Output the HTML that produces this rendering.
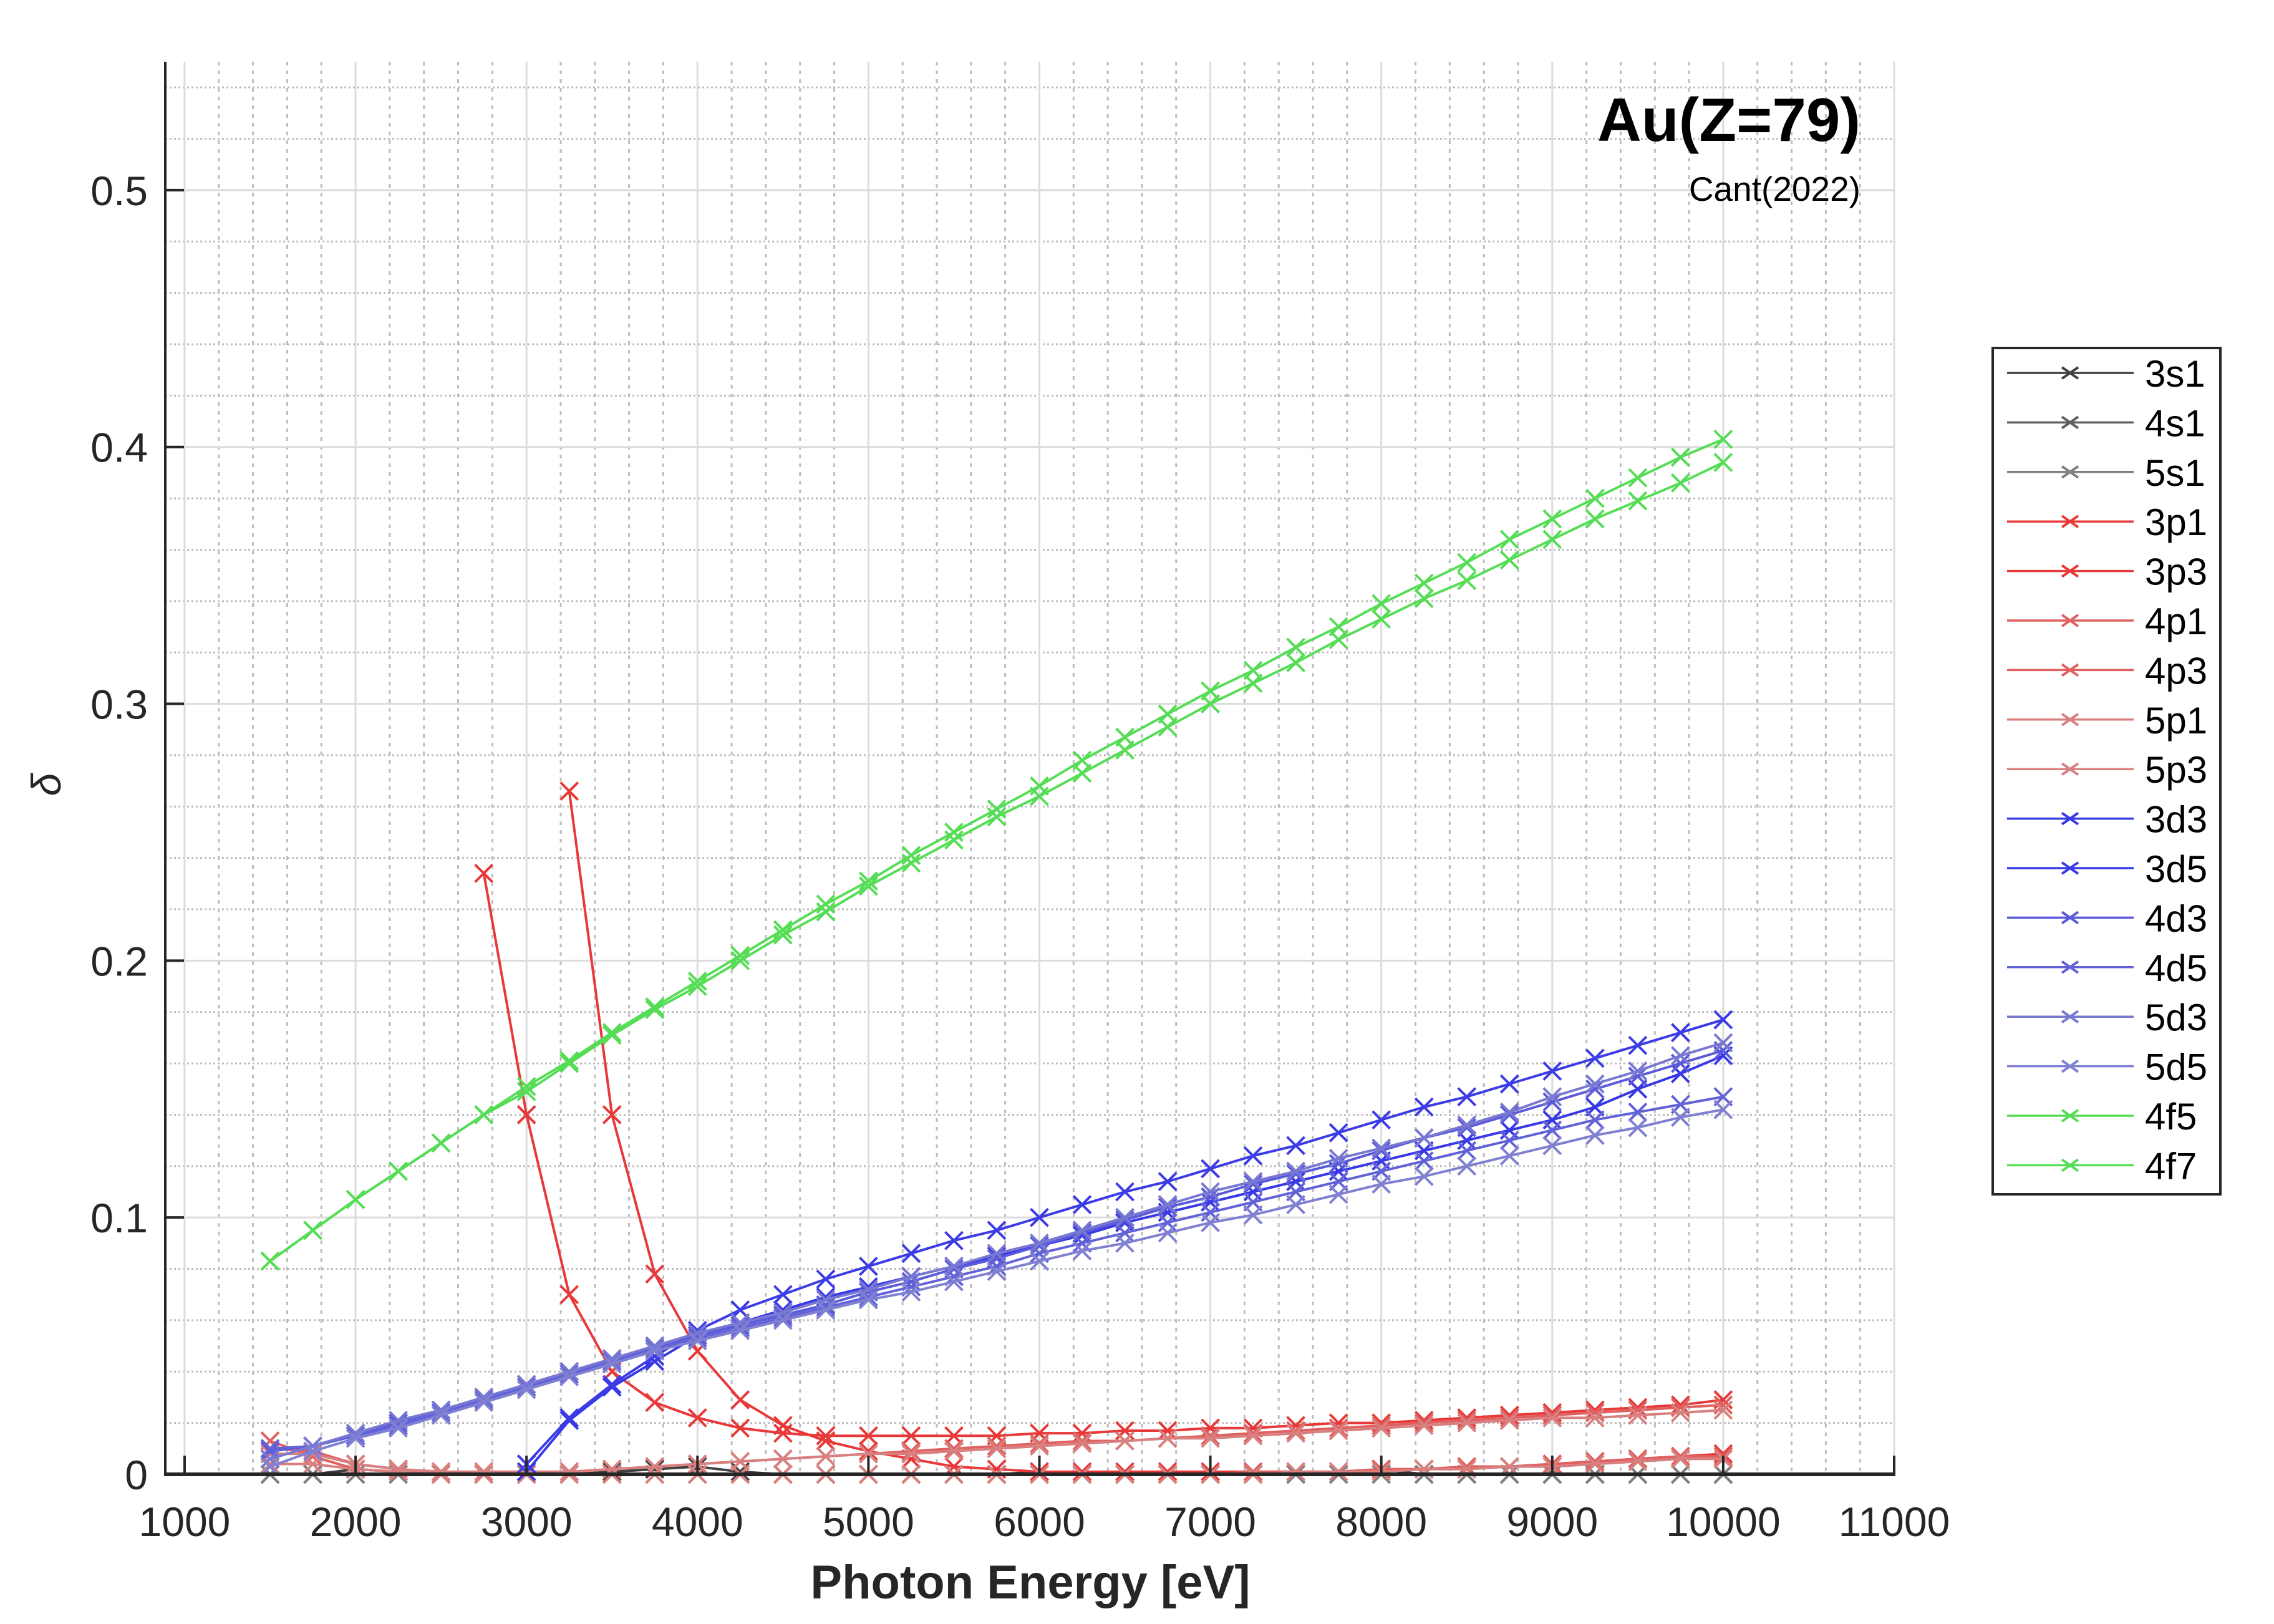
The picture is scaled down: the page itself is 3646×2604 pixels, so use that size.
<!DOCTYPE html>
<html><head><meta charset="utf-8"><style>
html,body{margin:0;padding:0;background:#fff;}
svg{display:block;font-family:"Liberation Sans",Arial,sans-serif;}
</style></head><body>
<svg id="chart" width="3646" height="2604" viewBox="0 0 3646 2604" xmlns="http://www.w3.org/2000/svg">
<rect x="0" y="0" width="3646" height="2604" fill="#fff"/>
<g id="grid"></g>
<g id="series"></g>
<g id="axes"></g>
<text x="2983" y="226" text-anchor="end" font-size="98" font-weight="bold" fill="#000">Au(Z=79)</text>
<text x="2983" y="322" text-anchor="end" font-size="55" fill="#000">Cant(2022)</text>
<text x="1652" y="2563" text-anchor="middle" font-size="76" font-weight="bold" fill="#262626">Photon Energy [eV]</text>
<text x="0" y="0" transform="translate(97,1258) rotate(-90)" text-anchor="middle" font-size="66" font-style="italic" fill="#262626">δ</text>
<g id="legend"></g>
</svg>
<script>
const energies=[1500,1750,2000,2250,2500,2750,3000,3250,3500,3750,4000,4250,4500,4750,5000,5250,5500,5750,6000,6250,6500,6750,7000,7250,7500,7750,8000,8250,8500,8750,9000,9250,9500,9750,10000];
const xTicks=[1000,2000,3000,4000,5000,6000,7000,8000,9000,10000,11000];
const yTicks=[0,0.1,0.2,0.3,0.4,0.5];
const yTickLabels=["0","0.1","0.2","0.3","0.4","0.5"];
const seriesNames=["3s1","4s1","5s1","3p1","3p3","4p1","4p3","5p1","5p3","3d3","3d5","4d3","4d5","5d3","5d5","4f5","4f7"];
const seriesColors=["#404040","#606060","#808080","#e83838","#e83838","#e06060","#e06060","#d88080","#d88080","#3838e6","#3c3ce6","#5a5ada","#6262d8","#7878d2","#8080d2","#55dd55","#55dd55"];
const N=null;
const s3s1=[0.000,0.000,0.002,0.001,0.000,0.000,0.000,0.000,0.001,0.002,0.003,0.001,0.000,0.000,0.000,0.000,0.000,0.000,0.001,0.000,0.000,0.000,0.000,0.000,0.000,0.000,0.002,0.000,0.000,0.000,0.000,0.000,0.000,0.000,0.000];
const s4s1=[0.000,0.000,0.000,0.000,0.000,0.000,0.000,0.000,0.000,0.000,0.000,0.000,0.000,0.000,0.000,0.000,0.000,0.000,0.000,0.000,0.000,0.000,0.000,0.000,0.000,0.000,0.000,0.000,0.000,0.000,0.000,0.000,0.000,0.000,0.000];
const s5s1=[0.000,0.000,0.000,0.000,0.000,0.000,0.000,0.000,0.000,0.000,0.000,0.000,0.000,0.000,0.000,0.000,0.000,0.000,0.000,0.000,0.000,0.000,0.000,0.000,0.000,0.000,0.000,0.000,0.000,0.000,0.000,0.000,0.000,0.000,0.000];
const s3p1=[N,N,N,N,N,0.234,0.140,0.070,0.040,0.028,0.022,0.018,0.016,0.015,0.015,0.015,0.015,0.015,0.016,0.016,0.017,0.017,0.018,0.018,0.019,0.020,0.020,0.021,0.022,0.023,0.024,0.025,0.026,0.027,0.029];
const s3p3=[N,N,N,N,N,N,N,0.266,0.140,0.078,0.048,0.029,0.019,0.013,0.009,0.006,0.003,0.002,0.001,0.001,0.001,0.001,0.001,0.001,0.001,0.001,0.002,0.002,0.003,0.003,0.004,0.005,0.006,0.007,0.008];
const s4p1=[0.013,0.007,0.002,0.001,0.000,0.000,0.000,0.000,0.000,0.000,0.000,0.000,0.000,0.000,0.000,0.000,0.000,0.000,0.000,0.000,0.000,0.000,0.000,0.001,0.001,0.001,0.002,0.002,0.003,0.003,0.004,0.005,0.006,0.007,0.007];
const s4p3=[0.010,0.009,0.004,0.002,0.001,0.001,0.001,0.001,0.002,0.003,0.004,0.005,0.006,0.007,0.008,0.009,0.010,0.011,0.012,0.013,0.013,0.014,0.015,0.016,0.017,0.018,0.019,0.020,0.021,0.022,0.023,0.024,0.025,0.026,0.027];
const s5p1=[0.004,0.004,0.002,0.001,0.000,0.000,0.000,0.000,0.000,0.000,0.000,0.000,0.000,0.000,0.000,0.000,0.000,0.000,0.000,0.000,0.000,0.000,0.000,0.000,0.001,0.001,0.001,0.002,0.002,0.003,0.003,0.004,0.005,0.006,0.006];
const s5p3=[0.008,0.008,0.004,0.002,0.001,0.001,0.001,0.001,0.002,0.003,0.004,0.005,0.006,0.007,0.008,0.008,0.009,0.010,0.011,0.012,0.013,0.014,0.014,0.015,0.016,0.017,0.018,0.019,0.020,0.021,0.022,0.022,0.023,0.024,0.025];
const s3d3=[N,N,N,N,N,N,0.001,0.021,0.034,0.044,0.054,0.059,0.064,0.069,0.073,0.077,0.081,0.085,0.089,0.093,0.098,0.102,0.106,0.110,0.114,0.118,0.122,0.126,0.130,0.134,0.138,0.143,0.150,0.156,0.163];
const s3d5=[N,N,N,N,N,N,0.004,0.022,0.035,0.046,0.056,0.064,0.070,0.076,0.081,0.086,0.091,0.095,0.100,0.105,0.110,0.114,0.119,0.124,0.128,0.133,0.138,0.143,0.147,0.152,0.157,0.162,0.167,0.172,0.177];
const s4d3=[0.009,0.011,0.015,0.020,0.025,0.030,0.035,0.040,0.045,0.049,0.054,0.058,0.062,0.066,0.071,0.075,0.080,0.084,0.089,0.094,0.099,0.104,0.108,0.113,0.117,0.121,0.126,0.131,0.135,0.140,0.145,0.150,0.155,0.160,0.165];
const s4d5=[0.010,0.011,0.015,0.019,0.024,0.029,0.034,0.039,0.044,0.049,0.053,0.057,0.061,0.065,0.069,0.073,0.077,0.081,0.086,0.090,0.094,0.098,0.102,0.106,0.110,0.114,0.118,0.122,0.126,0.130,0.134,0.138,0.141,0.144,0.147];
const s5d3=[0.006,0.011,0.016,0.021,0.025,0.030,0.035,0.040,0.045,0.050,0.055,0.059,0.063,0.068,0.072,0.077,0.081,0.086,0.090,0.095,0.100,0.105,0.110,0.114,0.118,0.123,0.127,0.131,0.136,0.141,0.147,0.152,0.157,0.163,0.168];
const s5d5=[0.003,0.009,0.014,0.018,0.023,0.028,0.033,0.038,0.043,0.048,0.052,0.056,0.060,0.064,0.068,0.071,0.075,0.079,0.083,0.087,0.090,0.094,0.098,0.101,0.105,0.109,0.113,0.116,0.120,0.124,0.128,0.132,0.135,0.139,0.142];
const s4f5=[0.083,0.095,0.107,0.118,0.129,0.140,0.149,0.160,0.171,0.181,0.190,0.200,0.210,0.219,0.229,0.238,0.247,0.256,0.264,0.273,0.282,0.291,0.300,0.308,0.316,0.325,0.333,0.341,0.348,0.356,0.364,0.372,0.379,0.386,0.394];
const s4f7=[0.083,0.095,0.107,0.118,0.129,0.140,0.151,0.161,0.172,0.182,0.192,0.202,0.212,0.222,0.231,0.241,0.250,0.259,0.268,0.278,0.287,0.296,0.305,0.313,0.322,0.330,0.339,0.347,0.355,0.364,0.372,0.380,0.388,0.396,0.403];
const seriesValues=[s3s1,s4s1,s5s1,s3p1,s3p3,s4p1,s4p3,s5p1,s5p3,s3d3,s3d5,s4d3,s4d5,s5d3,s5d5,s4f5,s4f7];

const NS="http://www.w3.org/2000/svg";
const L=265,R=3037,T=99,B=2364;
const XMIN=887,XMAX=11000,YMIN=0,YMAX=0.55;
function xs(v){return L+(v-XMIN)/(XMAX-XMIN)*(R-L);}
function ys(v){return B-(v-YMIN)/(YMAX-YMIN)*(B-T);}
function mk(tag,attrs,parent){const e=document.createElementNS(NS,tag);for(const k in attrs)e.setAttribute(k,attrs[k]);parent.appendChild(e);return e;}
const grid=document.getElementById('grid'),axes=document.getElementById('axes'),ser=document.getElementById('series'),leg=document.getElementById('legend');

for(let v=1000;v<=11000;v+=200){if(v%1000===0)continue;const l=mk('line',{x1:xs(v),x2:xs(v),y1:T,y2:B,stroke:'#bdbdbd','stroke-width':3,'stroke-dasharray':'6,8'},grid);

}
for(let i=1;i<28;i++){const v=i*0.02;if(i%5===0)continue;const l=mk('line',{x1:L,x2:R,y1:ys(v),y2:ys(v),stroke:'#bdbdbd','stroke-width':3,'stroke-dasharray':'3,4'},grid);

}
xTicks.forEach(v=>{const l=mk('line',{x1:xs(v),x2:xs(v),y1:T,y2:B,stroke:'#dcdcdc','stroke-width':3},grid);

});
yTicks.forEach(v=>{const l=mk('line',{x1:L,x2:R,y1:ys(v),y2:ys(v),stroke:'#dcdcdc','stroke-width':3},grid);

});

seriesValues.forEach((vals,si)=>{
  const c=seriesColors[si];let d='';let started=false;
  const g=mk('g',{},ser);
  
  
  vals.forEach((v,i)=>{if(v===null){started=false;return;}d+=(started?'L':'M')+xs(energies[i]).toFixed(1)+' '+ys(v).toFixed(1)+' ';started=true;});
  const p=mk('path',{d:d,fill:'none',stroke:c,'stroke-width':4},g);
  
  
  vals.forEach((v,i)=>{if(v===null)return;const x=xs(energies[i]),y=ys(v),s=14;
    const m=mk('path',{d:`M${x-s} ${y-s}L${x+s} ${y+s}M${x-s} ${y+s}L${x+s} ${y-s}`,stroke:c,'stroke-width':4,fill:'none'},g);
    
    });
});

const ax1=mk('line',{x1:L,x2:L,y1:T,y2:B+2,stroke:'#262626','stroke-width':4},axes);


const ax2=mk('line',{x1:L-2,x2:R+2,y1:B,y2:B,stroke:'#262626','stroke-width':6},axes);


const ax3=mk('line',{x1:R,x2:R,y1:B,y2:B-30,stroke:'#262626','stroke-width':4},axes);


xTicks.forEach(v=>{const t=mk('line',{x1:xs(v),x2:xs(v),y1:B,y2:B-30,stroke:'#262626','stroke-width':4},axes);


const tx=mk('text',{x:xs(v),y:2463,'text-anchor':'middle','font-size':66,fill:'#262626'},axes);tx.textContent=String(v);

});
yTicks.forEach((v,i)=>{const t=mk('line',{x1:L,x2:L+30,y1:ys(v),y2:ys(v),stroke:'#262626','stroke-width':4},axes);


const tx=mk('text',{x:237,y:ys(v)+24,'text-anchor':'end','font-size':66,fill:'#262626'},axes);tx.textContent=yTickLabels[i];

});

const box=mk('rect',{x:3195,y:558,width:365,height:1357,fill:'#fff',stroke:'#262626','stroke-width':4},leg);


seriesNames.forEach((n,i)=>{const y=598+i*79.4,c=seriesColors[i];
  const g=mk('g',{},leg);
  
  
  mk('line',{x1:3218,x2:3421,y1:y,y2:y,stroke:c,'stroke-width':3.5},g);
  const s=13;mk('path',{d:`M${3319-s} ${y-s*0.7}L${3319+s} ${y+s*0.7}M${3319-s} ${y+s*0.7}L${3319+s} ${y-s*0.7}`,stroke:c,'stroke-width':4},g);
  const t=mk('text',{x:3439,y:y+22,'font-size':60,fill:'#000'},g);t.textContent=n;
});
</script>
</body></html>
